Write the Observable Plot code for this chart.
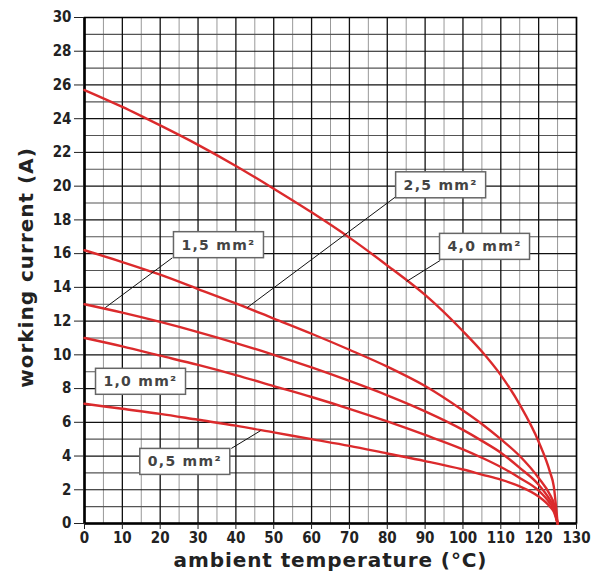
<!DOCTYPE html>
<html>
<head>
<meta charset="utf-8">
<script src="https://cdn.jsdelivr.net/npm/d3@7"></script>
<script src="https://cdn.jsdelivr.net/npm/@observablehq/plot@0.6"></script>
<style>
  html, body { margin: 0; padding: 0; background: #fff; }
  #chart { width: 594px; height: 578px; }
</style>
</head>
<body>
<div id="chart"></div>
<script>
// ambient temperature (°C) sample points
const temps = [0, 10, 20, 30, 40, 50, 60, 70, 80, 90, 100, 105, 110, 115, 120, 123, 124, 125];
// working current (A) per conductor cross-section
const cur40 = [25.7, 24.7, 23.6, 22.45, 21.2, 19.85, 18.45, 16.95, 15.3, 13.55, 11.4, 10.2, 8.8, 7.05, 4.85, 3.05, 2.2, 0];
const cur25 = [16.2, 15.5, 14.75, 13.9, 13.05, 12.15, 11.25, 10.3, 9.3, 8.15, 6.7, 5.9, 5.0, 4.0, 2.7, 1.7, 1.2, 0];
const cur15 = [13.0, 12.5, 11.95, 11.35, 10.7, 10.0, 9.25, 8.45, 7.6, 6.65, 5.55, 4.9, 4.2, 3.3, 2.3, 1.4, 1.0, 0];
const cur10 = [11.0, 10.5, 9.95, 9.4, 8.8, 8.15, 7.5, 6.8, 6.05, 5.25, 4.4, 3.9, 3.35, 2.7, 1.95, 1.2, 0.85, 0];
const cur05 = [7.1, 6.8, 6.5, 6.15, 5.8, 5.4, 5.0, 4.6, 4.15, 3.7, 3.2, 2.9, 2.6, 2.2, 1.6, 1.0, 0.7, 0];
const seriesNames = ["4,0 mm²", "2,5 mm²", "1,5 mm²", "1,0 mm²", "0,5 mm²"];
const seriesValues = [cur40, cur25, cur15, cur10, cur05];

// tick labels
const xTicks = [0, 10, 20, 30, 40, 50, 60, 70, 80, 90, 100, 110, 120, 130];
const yTicks = [0, 2, 4, 6, 8, 10, 12, 14, 16, 18, 20, 22, 24, 26, 28, 30];

// curve labels (anchor in data units)
const labelText = ["1,5 mm²", "2,5 mm²", "4,0 mm²", "1,0 mm²", "0,5 mm²"];
const labelT = [35.4, 94.1, 105.7, 14.8, 26.5];
const labelI = [16.5, 20.05, 16.4, 8.4, 3.65];
// leader lines (data units)
const leadT1 = [23.2, 82.4, 94.0, 38.8];
const leadI1 = [15.75, 19.4, 15.6, 4.45];
const leadT2 = [5.5, 43.0, 85.1, 46.5];
const leadI2 = [12.8, 12.8, 14.35, 5.5];

const rows = seriesNames.flatMap((s, k) => temps.map((t, i) => ({s, T: t, I: seriesValues[k][i]})));
const labels = labelText.map((t, i) => ({text: t, T: labelT[i], I: labelI[i]}));
const leaders = leadT1.map((t, i) => ({x1: t, y1: leadI1[i], x2: leadT2[i], y2: leadI2[i]}));

const red = "#db2a2c";
const plot = Plot.plot({
  width: 594,
  height: 578,
  marginLeft: 84,
  marginRight: 18,
  marginTop: 17,
  marginBottom: 55,
  x: {domain: [0, 130]},
  y: {domain: [0, 30]},
  style: {fontFamily: "DejaVu Sans", fontWeight: "bold", background: "#fff", color: "#222"},
  marks: [
    Plot.ruleX(d3.range(5, 130, 10), {stroke: "#999", strokeWidth: 1}),
    Plot.ruleY(d3.range(1, 30, 2), {stroke: "#555", strokeWidth: 1.1}),
    Plot.ruleY(d3.range(0, 31, 2), {stroke: "#111", strokeWidth: 1.2}),
    Plot.ruleX(d3.range(0, 131, 10), {stroke: "#111", strokeWidth: 1.3}),
    Plot.frame({stroke: "#000", strokeWidth: 1.5}),
    Plot.ruleX([0], {stroke: "#000", strokeWidth: 2.5}),
    Plot.ruleY([0], {stroke: "#000", strokeWidth: 2.5}),
    Plot.axisX({ticks: xTicks, tickFormat: d3.format("d"), tickSize: 6, tickPadding: 3, fontSize: 15, label: null, fontFamily: "DejaVu Sans Condensed"}),
    Plot.axisY({ticks: yTicks, tickFormat: d3.format("d"), tickSize: 10, tickPadding: 3, fontSize: 15, label: null, fontFamily: "DejaVu Sans Condensed"}),
    Plot.line(rows, {x: "T", y: "I", z: "s", stroke: red, strokeWidth: 2.4, curve: "monotone-x"}),
    Plot.link(leaders, {x1: "x1", y1: "y1", x2: "x2", y2: "y2", stroke: "#111", strokeWidth: 1}),
    Plot.text(labels, {x: "T", y: "I", text: "text", fontSize: 14, fill: "#444"}),
    Plot.text(["ambient temperature (°C)"], {frameAnchor: "bottom", dy: 43, fontSize: 20, fill: "#222"}),
    Plot.text(["working current (A)"], {frameAnchor: "left", textAnchor: "middle", rotate: -90, dx: -58, dy: -3, fontSize: 20, fill: "#222"})
  ]
});
document.getElementById("chart").appendChild(plot);

// letter spacing for axis titles
d3.select(plot).selectAll("text").each(function() {
  const t = this.textContent;
  if (t === "ambient temperature (°C)") this.style.letterSpacing = "0.9px";
  if (t === "working current (A)") this.style.letterSpacing = "1px";
});

// white boxes behind curve labels
d3.select(plot).selectAll("text").filter(function() { return this.textContent.includes("mm²"); }).each(function() {
  this.style.letterSpacing = "1.3px";
  const b = this.getBBox();
  const cx = b.x + b.width / 2, cy = b.y + b.height / 2;
  const r = document.createElementNS("http://www.w3.org/2000/svg", "rect");
  r.setAttribute("x", cx - 45);
  r.setAttribute("y", cy - 13);
  r.setAttribute("width", 90);
  r.setAttribute("height", 26);
  r.setAttribute("fill", "#fff");
  r.setAttribute("stroke", "#666");
  r.setAttribute("stroke-width", 1.5);
  const tr = this.getAttribute("transform");
  if (tr) r.setAttribute("transform", tr);
  this.parentNode.insertBefore(r, this);
});
</script>
</body>
</html>
